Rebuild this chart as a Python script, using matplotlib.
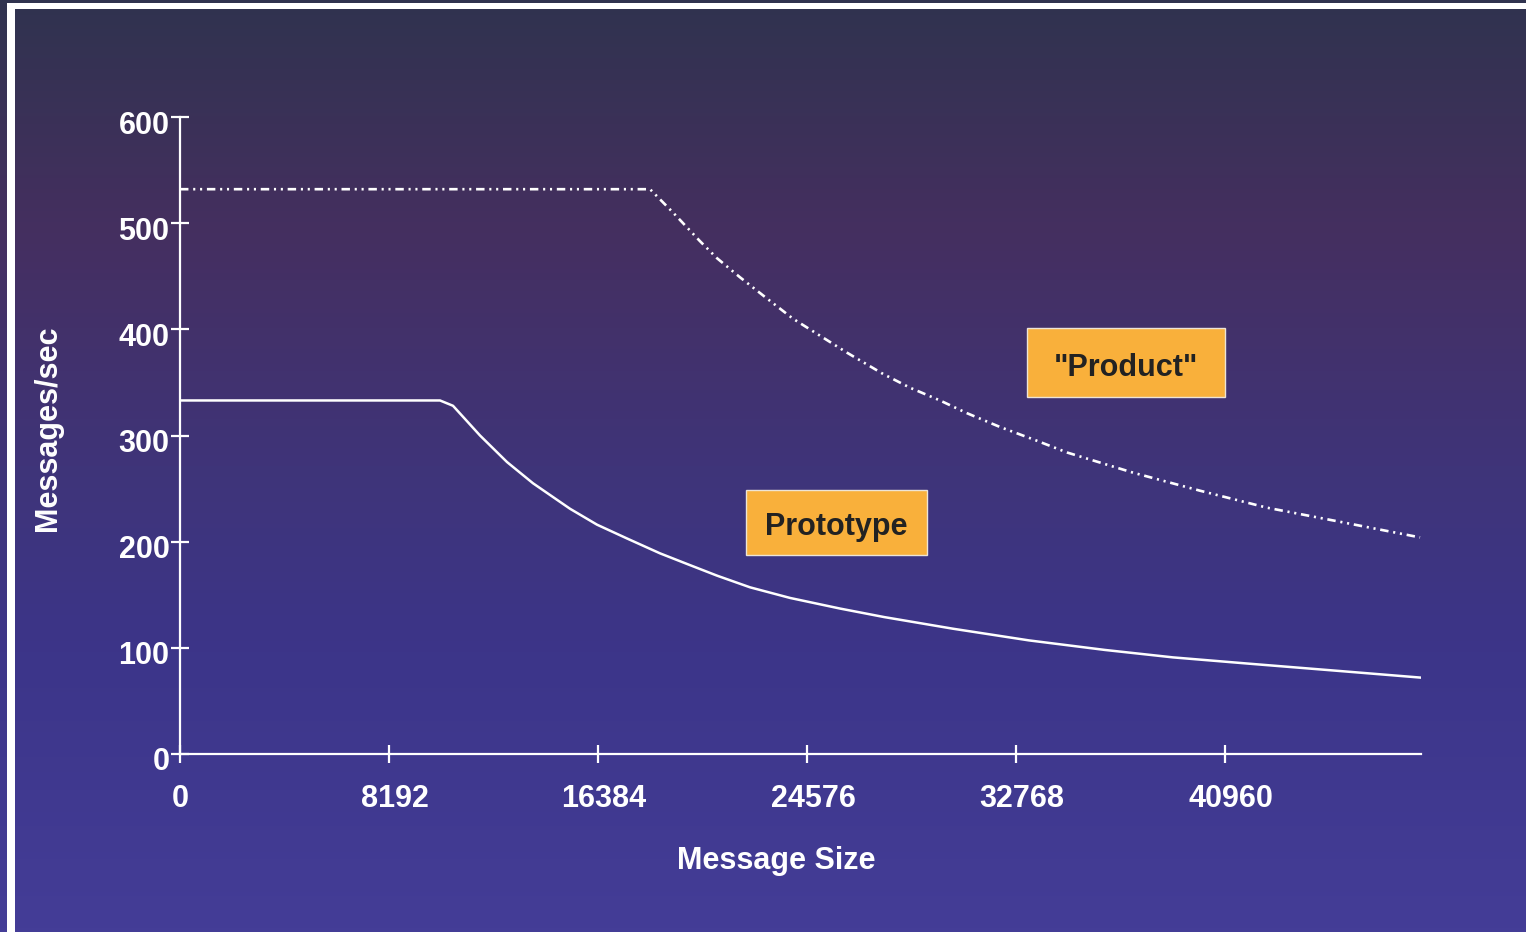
import numpy as np
import matplotlib.pyplot as plt
import matplotlib.transforms as mtransforms
from matplotlib.colors import LinearSegmentedColormap
from matplotlib.patches import Rectangle

plt.rcParams['font.family'] = ['Liberation Sans', 'DejaVu Sans']
plt.rcParams['font.weight'] = 'bold'

# Gegevens
proto_size = [0, 10191, 10700, 11759, 12817, 13836, 15286, 16345, 17521, 18814,
              19872, 21048, 22342, 23910, 25869, 27594, 30298, 33277, 36256,
              38922, 41940, 45546, 48603]
proto_rate = [333, 333, 328, 300, 275, 255, 231, 216, 203, 189,
              179, 168, 157, 147, 137, 129, 118, 107, 98,
              91, 85, 78, 72]

prod_size = [0, 18422, 19324, 20382, 21048, 21950, 23008, 24027, 25085, 26144,
             27555, 28613, 29789, 30847, 32141, 33591, 34767, 37354, 39980,
             42606, 45193, 48603]
prod_rate = [532, 532, 510, 483, 467, 449, 429, 410, 394, 378,
             358, 345, 333, 321, 308, 295, 284, 265, 248,
             232, 220, 204]

x_ticks = [0, 8192, 16384, 24576, 32768, 40960]
y_ticks = [0, 100, 200, 300, 400, 500, 600]

fig = plt.figure(figsize=(15.26, 9.32), dpi=100)

# achtergrond met kleurverloop en witte rand
bg = fig.add_axes([0, 0, 1, 1], zorder=-10)
stops = [(0.0, '#30334f'), (0.25, '#452f60'), (0.5, '#3f3479'),
         (0.7, '#3c3589'), (1.0, '#443d97')]
cmap = LinearSegmentedColormap.from_list('bg', stops)
grad = np.linspace(0, 1, 256).reshape(-1, 1)
bg.imshow(grad, aspect='auto', cmap=cmap, extent=[0, 1, 0, 1], origin='upper')
W, H = 1526., 932.
bg.add_patch(Rectangle((7/W, 0), 8/W, 1 - 3/H, facecolor='white', lw=0))
bg.add_patch(Rectangle((7/W, 1 - 9/H), 1, 6/H, facecolor='white', lw=0))
bg.set_xlim(0, 1)
bg.set_ylim(0, 1)
bg.axis('off')

# grafiek
ax = fig.add_axes([180/W, 1 - 754/H, 1241/W, 637/H])
ax.patch.set_visible(False)

ax.plot(proto_size, proto_rate, color='white', lw=1.8)
ax.plot(prod_size, prod_rate, color='white', lw=1.9,
        dashes=(3.2, 1.8, 0.8, 1.8, 0.8, 1.8))

ax.set_xlim(0, 48640)
ax.set_ylim(0, 600)
ax.set_xticks(x_ticks)
ax.set_yticks(y_ticks)

for s in ['top', 'right']:
    ax.spines[s].set_visible(False)
for s in ['left', 'bottom']:
    ax.spines[s].set_color('white')
    ax.spines[s].set_linewidth(1.6)

ax.tick_params(direction='inout', length=13, width=1.6, colors='white', labelsize=22)
ax.tick_params(axis='x', pad=15)
ax.tick_params(axis='y', pad=1)

dx = mtransforms.ScaledTranslation(0.06, 0, fig.dpi_scale_trans)
for lab in ax.get_xticklabels()[1:]:
    lab.set_transform(lab.get_transform() + dx)
dy = mtransforms.ScaledTranslation(0, -0.05, fig.dpi_scale_trans)
for lab in ax.get_yticklabels():
    lab.set_transform(lab.get_transform() + dy)

ax.set_xlabel('Message Size', color='white', fontsize=22, fontweight='bold')
ax.xaxis.set_label_coords(0.4803, -0.168)
ax.xaxis.label.set_va('center')
ax.set_ylabel('Messages/sec', color='white', fontsize=22, fontweight='bold')
ax.yaxis.set_label_coords(-0.1064, 0.512)
ax.yaxis.label.set_va('center')

# labels in oranje kaders
orange = '#f9b03b'
ax.add_patch(Rectangle((22185, 187.2), 29279 - 22185, 248.3 - 187.2,
                       facecolor=orange, edgecolor='#eee4d6', lw=1, zorder=3))
ax.text(25732, 213.5, 'Prototype', ha='center', va='center', fontsize=22,
        fontweight='bold', color='#222222', zorder=4)
ax.add_patch(Rectangle((33199, 336.7), 40960 - 33199, 401.6 - 336.7,
                       facecolor=orange, edgecolor='#eee4d6', lw=1, zorder=3))
ax.text(37079, 364, '"Product"', ha='center', va='center', fontsize=22,
        fontweight='bold', color='#222222', zorder=4)

fig.savefig('out.png', dpi=100)
